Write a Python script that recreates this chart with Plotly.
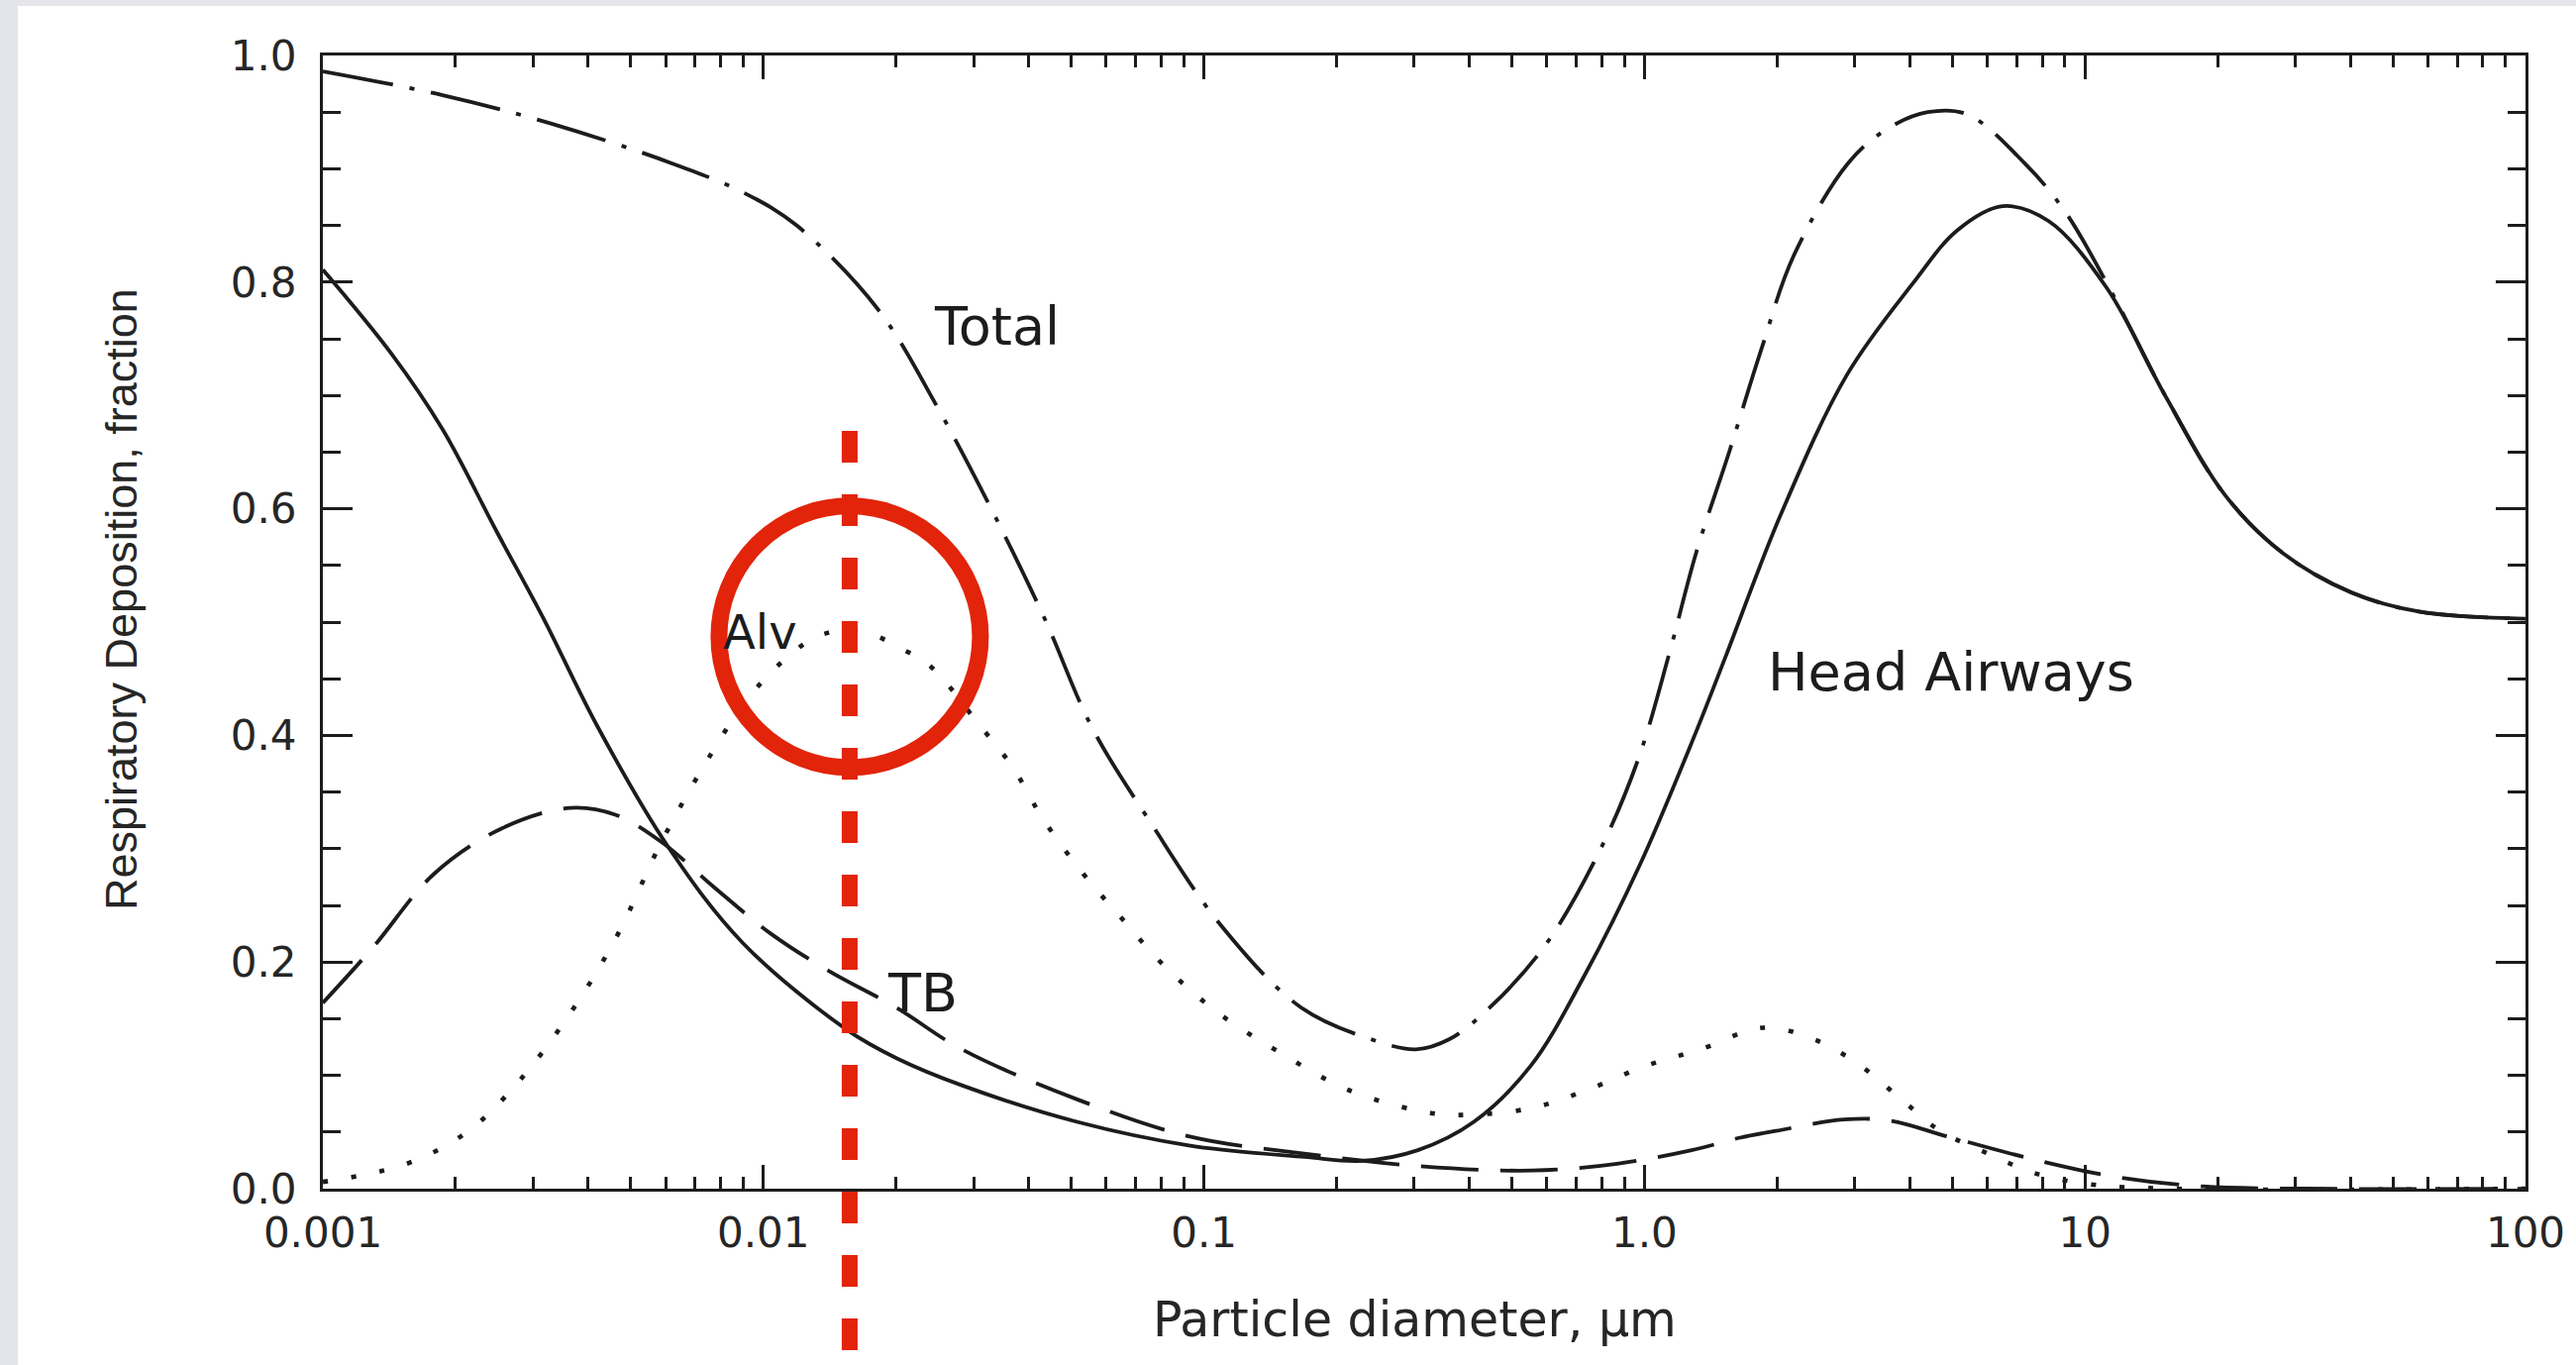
import plotly.graph_objects as go
import math

# ---------------- data (diameter in µm, deposition fraction) -------------
head_d = [0.001, 0.00143, 0.00187, 0.00248, 0.00317, 0.00420, 0.00607, 0.00897, 0.0155, 0.0201,
          0.0283, 0.0515, 0.0931, 0.169, 0.228, 0.306, 0.410, 0.551, 0.733, 0.977,
          1.30, 1.53, 2.04, 2.88, 4.07, 5.14, 6.50, 8.26, 11.2, 15.3,
          20.8, 28.1, 40.3, 57.7, 100]
head_v = [0.811, 0.737, 0.670, 0.580, 0.503, 0.408, 0.302, 0.217, 0.140, 0.115,
          0.091, 0.059, 0.038, 0.028, 0.0245, 0.034, 0.059, 0.108, 0.189, 0.286,
          0.400, 0.470, 0.595, 0.718, 0.799, 0.846, 0.867, 0.854, 0.795, 0.698,
          0.612, 0.561, 0.526, 0.509, 0.503]

total_d = [0.001, 0.00187, 0.00329, 0.00618, 0.00912, 0.0119, 0.0182, 0.0248, 0.0329, 0.0435,
           0.0557, 0.0757, 0.109, 0.166, 0.239, 0.303, 0.361, 0.446, 0.596, 0.791,
           0.968, 1.14, 1.31, 1.56, 1.84, 2.18, 2.90, 3.55, 4.40, 5.41, 7.29,
           9.02, 11.5, 15.3, 20.8, 28.1, 40.3, 57.7, 100]
total_v = [0.986, 0.965, 0.940, 0.905, 0.878, 0.850, 0.776, 0.690, 0.600, 0.503,
           0.407, 0.323, 0.233, 0.160, 0.132, 0.123, 0.132, 0.160, 0.215, 0.298,
           0.379, 0.473, 0.561, 0.651, 0.740, 0.823, 0.905, 0.935, 0.950, 0.948, 0.905,
           0.862, 0.791, 0.698, 0.612, 0.561, 0.526, 0.509, 0.503]

tb_d = [0.001, 0.00130, 0.00179, 0.00255, 0.00364, 0.00461, 0.00587, 0.00773, 0.0104, 0.0141,
        0.0200, 0.0282, 0.0514, 0.0929, 0.169, 0.306, 0.556, 0.867, 1.28, 1.65,
        1.99, 2.84, 3.61, 4.88, 7.62, 11.9, 18.5, 31.6, 100]
tb_v = [0.164, 0.213, 0.278, 0.318, 0.336, 0.330, 0.306, 0.266, 0.225, 0.192,
        0.160, 0.123, 0.079, 0.046, 0.031, 0.020, 0.016, 0.022, 0.034, 0.045,
        0.051, 0.061, 0.060, 0.046, 0.026, 0.010, 0.002, 0.0, 0.0]

alv_d = [0.001, 0.00155, 0.00214, 0.00279, 0.00372, 0.00468, 0.00587, 0.00762, 0.00955, 0.0132,
         0.0166, 0.0207, 0.0241, 0.0308, 0.0368, 0.0430, 0.0532, 0.0656, 0.0811, 0.107,
         0.149, 0.213, 0.305, 0.377, 0.552, 0.740, 1.00, 1.34, 1.86, 2.42,
         3.08, 3.93, 4.69, 6.03, 7.64, 10.2, 15.8, 100]
alv_v = [0.006, 0.022, 0.051, 0.095, 0.160, 0.225, 0.306, 0.384, 0.440, 0.487,
         0.492, 0.476, 0.460, 0.410, 0.372, 0.327, 0.278, 0.237, 0.197, 0.156,
         0.120, 0.087, 0.069, 0.065, 0.071, 0.087, 0.108, 0.123, 0.142, 0.132,
         0.109, 0.075, 0.051, 0.031, 0.014, 0.004, 0.0, 0.0]

x_tickvals = [0.001, 0.01, 0.1, 1, 10, 100]
x_ticktext = ["0.001", "0.01", "0.1", "1.0", "10", "100"]

# curve labels: (text, diameter µm, fraction, font size)
labels = [("Total", 0.0338, 0.761, 54), ("Alv", 0.00985, 0.491, 48), ("TB", 0.0230, 0.173, 54),
          ("Head Airways", 4.97, 0.456, 54)]

highlight_d = 0.0157      # red marker diameter
highlight_v = 0.487       # centre of the red circle

# ---------------- layout geometry ----------------
W, H = 2601, 1378
ML, MR, MT, MB = 326, 51, 56, 178
PW, PH = W - ML - MR, H - MT - MB


def px_x(X):
    return (X - ML) / PW


def px_y(Y):
    return (H - MB - Y) / PH


INK = "#1c1c1c"
FONT = "DejaVu Sans"
LW = 3.8

fig = go.Figure()
fig.add_trace(go.Scatter(x=head_d, y=head_v, mode="lines",
                         line=dict(color=INK, width=LW, shape="spline", smoothing=1.0)))
fig.add_trace(go.Scatter(x=tb_d, y=tb_v, mode="lines",
                         line=dict(color=INK, width=LW, dash="58px,22px", shape="spline", smoothing=1.0)))
fig.add_trace(go.Scatter(x=alv_d, y=alv_v, mode="lines",
                         line=dict(color=INK, width=4.6, dash="5px,24px", shape="spline", smoothing=1.0)))
fig.add_trace(go.Scatter(x=total_d, y=total_v, mode="lines",
                         line=dict(color=INK, width=LW, dash="72px,17px,5px,17px", shape="spline", smoothing=1.0)))

minor_x = [m * 10 ** e for e in range(-3, 2) for m in range(2, 10)]

fig.update_xaxes(
    type="log", range=[-3, 2], tickvals=x_tickvals, ticktext=x_ticktext,
    ticks="inside", ticklen=24, tickwidth=2.8, tickcolor=INK,
    showline=True, linewidth=3.2, linecolor=INK, mirror="ticks",
    showgrid=False, zeroline=False,
    minor=dict(tickvals=minor_x, ticks="inside", ticklen=12, tickwidth=2.8, tickcolor=INK, showgrid=False),
    tickfont=dict(family=FONT, size=42, color="#262626"), ticklabelstandoff=5,
)
fig.update_yaxes(
    range=[0, 1], dtick=0.2, tick0=0, tickformat=".1f",
    ticks="inside", ticklen=30, tickwidth=2.8, tickcolor=INK,
    showline=True, linewidth=3.2, linecolor=INK, mirror="ticks",
    showgrid=False, zeroline=False,
    minor=dict(dtick=0.05, ticks="inside", ticklen=18, tickwidth=2.8, tickcolor=INK, showgrid=False),
    tickfont=dict(family=FONT, size=42, color="#262626"), ticklabelstandoff=15,
)

annotations = []
for text, d, v, fs in labels:
    annotations.append(dict(x=math.log10(d), y=v, xref="x", yref="y", text=text, showarrow=False,
                            xanchor="center", yanchor="middle",
                            font=dict(family=FONT, size=fs, color=INK)))
annotations.append(dict(x=px_x(1428), y=px_y(1332), xref="paper", yref="paper",
                        text="Particle diameter, µm", showarrow=False, xanchor="center", yanchor="middle",
                        font=dict(family=FONT, size=49, color="#262626")))
annotations.append(dict(x=px_x(122), y=px_y(605), xref="paper", yref="paper",
                        text="Respiratory Deposition, fraction", showarrow=False, textangle=-90,
                        xanchor="center", yanchor="middle",
                        font=dict(family="Liberation Sans", size=45, color="#262626")))

RED = "#e2240a"
hx = (math.log10(highlight_d) + 3) / 5  # paper position of the highlighted diameter
shapes = [
    dict(type="rect", xref="paper", yref="paper", x0=px_x(0), x1=px_x(18), y0=px_y(H), y1=px_y(0),
         fillcolor="#e3e5ea", line=dict(width=0), layer="below"),
    dict(type="rect", xref="paper", yref="paper", x0=px_x(0), x1=px_x(W), y0=px_y(6), y1=px_y(0),
         fillcolor="#e3e5ea", line=dict(width=0), layer="below"),
    dict(type="line", xref="paper", yref="paper", x0=hx, x1=hx, y0=px_y(435), y1=px_y(H + 40),
         line=dict(color=RED, width=16, dash="32px,32px")),
    dict(type="circle", xref="paper", yref="y", xsizemode="pixel", ysizemode="pixel",
         xanchor=hx, yanchor=highlight_v, x0=-132, x1=132, y0=-132, y1=132,
         line=dict(color=RED, width=17)),
]

fig.update_layout(
    width=W, height=H, margin=dict(l=ML, r=MR, t=MT, b=MB, pad=0),
    paper_bgcolor="white", plot_bgcolor="white", showlegend=False,
    annotations=annotations, shapes=shapes,
)

fig.write_html("out.html", config={"displayModeBar": False},
               post_script="document.body.style.margin='0';document.body.style.overflow='hidden';")
